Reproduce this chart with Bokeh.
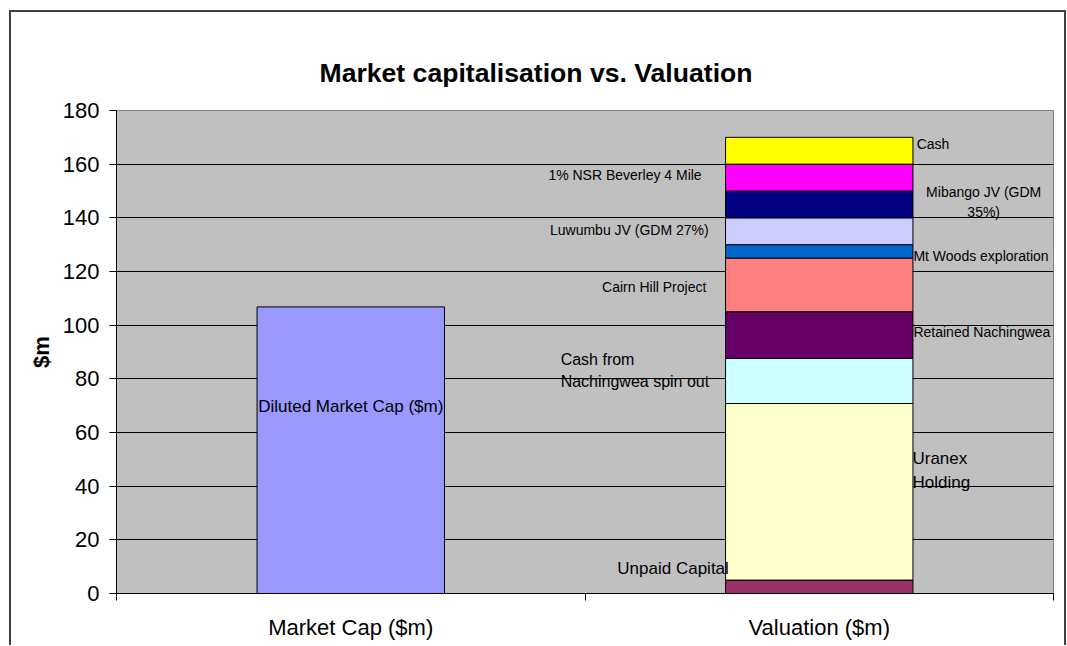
import numpy as np
from bokeh.plotting import figure
from bokeh.models import ColumnDataSource, FixedTicker, CustomJSTickFormatter, Range1d
from bokeh.core.properties import value
from bokeh.embed import file_html
from bokeh.resources import INLINE

# ---------------- data ----------------
categories = ["Market Cap ($m)", "Valuation ($m)"]

market_cap_values = [106.8]
market_cap_labels = ["Diluted Market Cap ($m)"]
market_cap_colors = ["#9999FF"]

valuation_parts = [
    "Unpaid Capital",
    "Uranex\nHolding",
    "Cash from\nNachingwea spin out",
    "Retained Nachingwea",
    "Cairn Hill Project",
    "Mt Woods exploration",
    "Luwumbu JV (GDM 27%)",
    "Mibango JV (GDM\n35%)",
    "1% NSR Beverley 4 Mile",
    "Cash",
]
valuation_values = [5.0, 65.8, 16.8, 17.4, 20.0, 5.0, 10.0, 10.0, 10.0, 10.0]
valuation_colors = ["#993366", "#FFFFCC", "#CCFFFF", "#660066", "#FF8080",
                    "#0066CC", "#CCCCFF", "#000080", "#FF00FF", "#FFFF00"]

y_ticks = [0, 20, 40, 60, 80, 100, 120, 140, 160, 180]

# ---------------- layout of the data labels (positions, not data) ----------------
lab_x = [1.069, 1.699, 0.948, 1.701, 1.259, 1.701, 1.264, 1.851, 1.249, 1.708]
lab_y = [9.5, 45.8, 83.1, 97.6, 114.4, 125.9, 135.6, 145.9, 155.8, 167.4]
lab_align = ["left", "left", "left", "left", "right", "left", "right", "center", "right", "left"]
lab_size = ["17px", "17px", "16px", "14px", "14px", "14px", "14px", "14px", "14px", "14px"]
lab_lh = [1.24, 1.24, 1.28, 1.2, 1.2, 1.2, 1.2, 1.2, 1.2, 1.2]

FONT = "Liberation Sans"

BAR_W = 0.4
x_mc = 0.5
x_val = 1.5

p = figure(
    frame_width=937, frame_height=483,
    min_border_left=105, min_border_right=11, min_border_top=98, min_border_bottom=52,
    x_range=Range1d(0, 2), y_range=Range1d(0, 180),
    output_backend="svg", toolbar_location=None,
    title="Market capitalisation vs. Valuation",
)
p.styles = {"margin-left": "9px", "margin-top": "10px",
            "border-left": "2px solid #404040", "border-top": "2px solid #404040",
            "border-right": "2px solid #404040"}
p.title.align = "left"
p.title.offset = 203
p.title.standoff = 46
p.title.text_font = FONT
p.title.text_font_size = "26.6px"
p.title.text_font_style = "bold"
p.title.text_color = "black"

p.background_fill_color = "#C0C0C0"
p.border_fill_color = "white"
p.outline_line_color = "#808080"
p.outline_line_width = 1

# grid
p.xgrid.grid_line_color = None
p.ygrid.grid_line_color = "black"
p.ygrid.grid_line_width = 1
p.ygrid.ticker = FixedTicker(ticks=y_ticks)

# y axis
p.yaxis.ticker = FixedTicker(ticks=y_ticks)
p.yaxis.axis_label = "$m"
p.yaxis.axis_label_text_font = FONT
p.yaxis.axis_label_text_font_style = "bold"
p.yaxis.axis_label_text_font_size = "22px"
p.yaxis.axis_label_text_color = "black"
p.yaxis.axis_label_standoff = 6
p.yaxis.major_label_text_font = FONT
p.yaxis.major_label_text_font_size = "22px"
p.yaxis.major_label_text_color = "black"
p.yaxis.major_tick_out = 7
p.yaxis.major_tick_in = 0
p.yaxis.minor_tick_out = 0
p.yaxis.minor_tick_in = 0
p.yaxis.major_label_standoff = 10
p.yaxis.axis_line_color = "black"
p.yaxis.major_tick_line_color = "black"

# x axis: labels at category centres, tick marks between categories
p.xaxis.ticker = FixedTicker(ticks=[0.5, 1.5], minor_ticks=[0, 1, 2])
p.xaxis.formatter = CustomJSTickFormatter(args=dict(labels=categories),
                                          code="return labels[Math.floor(tick)];")
p.xaxis.major_label_text_font = FONT
p.xaxis.major_label_text_font_size = "22px"
p.xaxis.major_label_text_color = "black"
p.xaxis.major_tick_out = 0
p.xaxis.major_tick_in = 0
p.xaxis.minor_tick_out = 7
p.xaxis.minor_tick_in = 0
p.xaxis.minor_tick_line_color = "black"
p.xaxis.major_label_standoff = 14
p.xaxis.axis_line_color = "black"

# market cap bar
mc_src = ColumnDataSource(dict(x=[x_mc], top=market_cap_values, bottom=[0.0],
                               color=market_cap_colors, label=market_cap_labels))
p.vbar(x="x", top="top", bottom="bottom", width=BAR_W, fill_color="color",
       line_color="black", line_width=1, source=mc_src)

# valuation stacked bar
vals = np.array(valuation_values)
tops = np.cumsum(vals)
bottoms = tops - vals
val_src = ColumnDataSource(dict(x=[x_val] * len(vals), top=tops, bottom=bottoms,
                                color=valuation_colors))
p.vbar(x="x", top="top", bottom="bottom", width=BAR_W, fill_color="color",
       line_color="black", line_width=1, source=val_src)

# data labels
lab_src = ColumnDataSource(dict(x=lab_x, y=lab_y, text=valuation_parts,
                                align=lab_align, size=lab_size, lh=lab_lh))
p.text(x="x", y="y", text="text", text_align="align", text_baseline="middle",
       text_font_size="size", text_line_height="lh", text_font=value(FONT),
       text_color="black", source=lab_src)

mc_lab_src = ColumnDataSource(dict(x=[x_mc], y=[69.6], text=market_cap_labels))
p.text(x="x", y="y", text="text", text_align="center", text_baseline="middle",
       text_font_size="17px", text_font=value(FONT), text_color="black", source=mc_lab_src)

open("out.html", "w").write(file_html(p, INLINE))
